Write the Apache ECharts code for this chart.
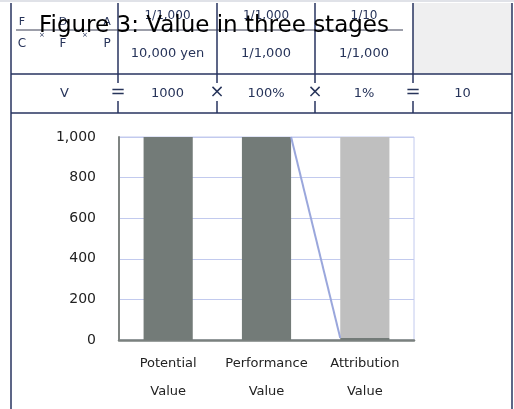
<!DOCTYPE html>
<html>
<head>
<meta charset="utf-8">
<script src="https://cdn.jsdelivr.net/npm/echarts@6/dist/echarts.min.js"></script>
<style>
  html, body { margin: 0; padding: 0; background: #fff; }
  #chart { width: 514px; height: 409px; }
</style>
</head>
<body>
<div id="chart"></div>
<script>
// Stages of value and their amounts
const categories = ['Potential\nValue', 'Performance\nValue', 'Attribution\nValue'];
const stageValues = [1000, 1000, 10];
const lostValues = [0, 0, 990];
const yTicks = [0, 200, 400, 600, 800, 1000];

// Equation table above the chart
const fractionTops = ['1/1,000', '1/1,000', '1/10'];
const fractionBottoms = ['10,000 yen', '1/1,000', '1/1,000'];
const equationTerms = ['V', '1000', '100%', '1%', '10'];
const equationOps = ['=', '×', '×', '='];
const ratioTops = ['F', 'D', 'A'];
const ratioBottoms = ['C', 'F', 'P'];

const FONT = 'DejaVu Sans';
const INK = '#27345a';
const frameColor = '#27335f';

// Column geometry of the table
const colX = [11, 118, 217, 315, 413, 512];
const colCenter = i => (colX[i] + colX[i + 1]) / 2;

const graphics = [];
const line = (x1, y1, x2, y2, color, w, z) => graphics.push({
  type: 'line', z: z || 1, silent: true,
  shape: { x1, y1, x2, y2 }, style: { stroke: color, lineWidth: w }
});
const text = (x, y, s, size, opts) => graphics.push(Object.assign({
  type: 'text', z: 3, silent: true, x, y,
  style: { text: s, fill: INK, font: size + 'px "' + FONT + '"', align: 'center', verticalAlign: 'middle' }
}, opts || {}));

// shaded result cell
graphics.push({ type: 'rect', z: 0, silent: true, shape: { x: 413, y: 3, width: 99, height: 71 }, style: { fill: '#efeff0' } });
// top edge
line(0, 1, 514, 1, '#d6d8e0', 1.5);
// outer frame and rows
line(11, 3, 11, 409, frameColor, 1.5);
line(512, 3, 512, 409, frameColor, 1.5);
line(11, 74, 512, 74, frameColor, 1.5);
line(11, 113, 512, 113, frameColor, 1.5);
for (let i = 1; i <= 4; i++) line(colX[i], 3, colX[i], 113, frameColor, 1.5);
// fraction bar
line(16, 30, 403, 30, '#3a3f55', 1, 2);

// ratio symbols in the first cell
const ratioX = [22, 63, 107];
ratioTops.forEach((s, i) => text(ratioX[i], 22, s, 11));
ratioBottoms.forEach((s, i) => text(ratioX[i], 44, s, 12));
text(42, 35, '×', 7);
text(85, 35, '×', 7);

fractionTops.forEach((s, i) => text(colCenter(i + 1), 16, s, 12));
fractionBottoms.forEach((s, i) => text(colCenter(i + 1), 54, s, 13));
equationTerms.forEach((s, i) => text(colCenter(i), 94, s, 13));
equationOps.forEach((s, i) => text(colX[i + 1], 92, s, 18, {
  style: { text: s, fill: INK, font: '18px "' + FONT + '"', align: 'center', verticalAlign: 'middle',
           backgroundColor: '#fff', padding: [0, 1] }
}));

// connector from the top of the second bar to the base of the third
const barRatio = 0.5;
const connector = [
  [1 + 0.5 + barRatio / 2, stageValues[1]],
  [2 + 0.5 - barRatio / 2, stageValues[2]]
];

const chart = echarts.init(document.getElementById('chart'), null, { renderer: 'canvas' });
chart.setOption({
  backgroundColor: '#fff',
  animation: false,
  title: {
    text: 'Figure 3: Value in three stages',
    left: 34, top: 10, z: 10,
    textStyle: { fontFamily: FONT, fontSize: 23, fontWeight: 'normal', color: '#000' }
  },
  graphic: graphics,
  grid: {
    left: 119, right: 100, top: 137, bottom: 69,
    show: true, borderColor: '#c2caee', borderWidth: 1, backgroundColor: 'transparent'
  },
  xAxis: [{
    type: 'category', data: categories,
    axisLine: { lineStyle: { color: '#7a807e', width: 2.5 } },
    axisTick: { show: false },
    axisLabel: { interval: 0, fontFamily: FONT, fontSize: 13, color: '#222', lineHeight: 28, margin: 10 }
  }, {
    type: 'value', min: 0, max: categories.length, show: false
  }],
  yAxis: {
    type: 'value', min: yTicks[0], max: yTicks[yTicks.length - 1], interval: yTicks[1] - yTicks[0],
    axisLine: { show: true, lineStyle: { color: '#7f8482', width: 2 } },
    axisTick: { show: false },
    splitLine: { lineStyle: { color: '#c2caee', width: 1 } },
    axisLabel: {
      fontFamily: FONT, fontSize: 14, color: '#222', margin: 23,
      formatter: v => v.toLocaleString('en-US')
    }
  },
  series: [{
    type: 'bar', stack: 'v', data: stageValues, barWidth: (barRatio * 100) + '%',
    itemStyle: { color: '#737b78' }, z: 2
  }, {
    type: 'bar', stack: 'v', data: lostValues, barWidth: (barRatio * 100) + '%',
    itemStyle: { color: '#bfbfbf' }, z: 2
  }, {
    type: 'line', xAxisIndex: 1, data: connector, symbol: 'none',
    lineStyle: { color: '#9aa7dc', width: 2 }, z: 3
  }]
});
</script>
</body>
</html>
